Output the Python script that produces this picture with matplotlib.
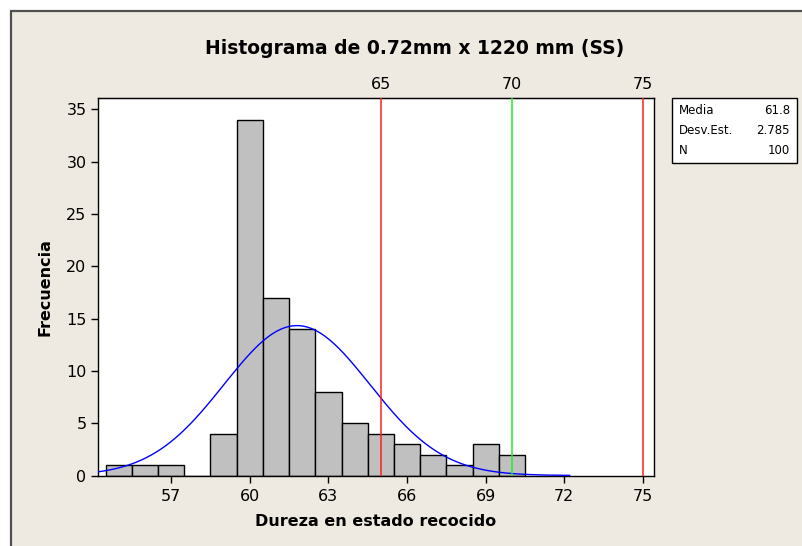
import numpy as np
import matplotlib
matplotlib.use('Agg')
import matplotlib.pyplot as plt
from matplotlib.patches import Rectangle

# hardness values (bin centres) and counts
bin_centers = [55, 56, 57, 58, 59, 60, 61, 62, 63, 64, 65, 66, 67, 68, 69, 70]
counts = [1, 1, 1, 0, 4, 34, 17, 14, 8, 5, 4, 3, 2, 1, 3, 2]
bin_width = 1.0

media = 61.8
desv_est = 2.785
n_total = 100

x_ticks = [57, 60, 63, 66, 69, 72, 75]
y_ticks = [0, 5, 10, 15, 20, 25, 30, 35]
ref_lines = [65, 70, 75]
ref_colors = ['#ff2020', '#22ee22', '#ff2020']

bg = '#eeeae1'
plt.rcParams['font.family'] = 'DejaVu Sans'

fig = plt.figure(figsize=(8.02, 5.46), dpi=100, facecolor='white')

# outer frame
fig.patches.append(Rectangle((11 / 802, -0.05), 1.0, 1 - 11 / 546 + 0.05,
                             transform=fig.transFigure, facecolor=bg,
                             edgecolor='#505050', linewidth=1.6, zorder=-10))

ax = fig.add_axes([97.7 / 802, 1 - 475.5 / 546, (654 - 97.7) / 802, (475.5 - 97.7) / 546])
ax.set_facecolor('white')

ax.bar(bin_centers, counts, width=bin_width, color='#c0c0c0', edgecolor='black',
       linewidth=1.0, zorder=2)

ax.set_xlim(54.2, 75.42)
ax.set_ylim(0, 36.1)

xc = np.linspace(54.2, 72.2, 300)
yc = n_total * bin_width / (desv_est * np.sqrt(2 * np.pi)) * np.exp(-0.5 * ((xc - media) / desv_est) ** 2)
ax.plot(xc, yc, color='#0000ff', linewidth=1.0, zorder=3)

for v, c in zip(ref_lines, ref_colors):
    ax.axvline(v, color=c, linewidth=1.1, zorder=4)

ax.set_xticks(x_ticks)
ax.set_yticks(y_ticks)
ax.tick_params(axis='both', direction='out', length=5, width=1, labelsize=11.5, pad=3)
ax.tick_params(axis='x', pad=5)
for s in ax.spines.values():
    s.set_linewidth(1.0)

top = ax.secondary_xaxis('top')
top.set_xticks(ref_lines)
top.tick_params(length=0, labelsize=11.5, pad=4)

ax.set_xlabel('Dureza en estado recocido', fontsize=11.5, fontweight='bold', labelpad=7)
ax.set_ylabel('Frecuencia', fontsize=11.5, fontweight='bold', labelpad=10)

fig.text(415 / 802, 1 - 49 / 546, 'Histograma de 0.72mm x 1220 mm (SS)',
         ha='center', va='center', fontsize=13.5, fontweight='bold')

# stats box
fig.patches.append(Rectangle((672 / 802, 1 - 163 / 546), 125 / 802, 65 / 546,
                             transform=fig.transFigure, facecolor='white',
                             edgecolor='black', linewidth=1.0))
rows = [('Media', f'{media}'), ('Desv.Est.', f'{desv_est}'), ('N', f'{n_total}')]
for i, (lab, val) in enumerate(rows):
    yy = 1 - (111 + i * 19.5) / 546
    fig.text(679 / 802, yy, lab, ha='left', va='center', fontsize=8.5)
    fig.text(790 / 802, yy, val, ha='right', va='center', fontsize=8.5)

fig.savefig('out.png', dpi=100, facecolor=fig.get_facecolor())
